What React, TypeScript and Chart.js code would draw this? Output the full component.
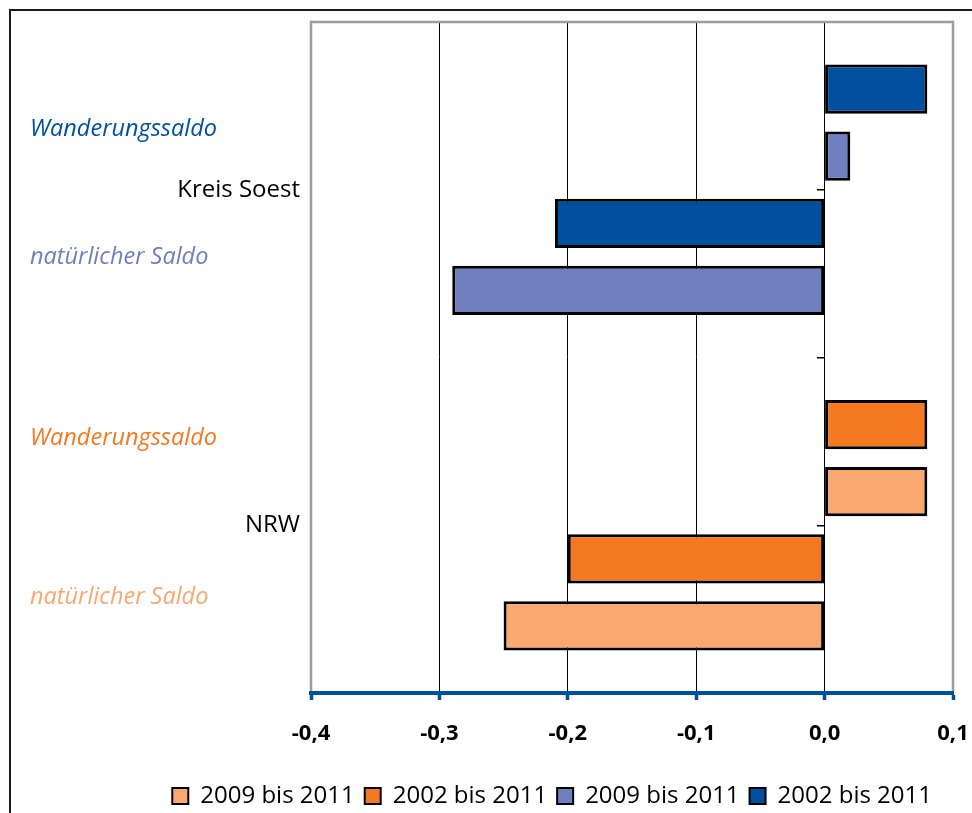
import React, { useEffect, useRef } from 'react';
import { Chart, registerables } from 'chart.js';

Chart.register(...registerables);

// ---- data ----
const periods = ['2009 bis 2011', '2002 bis 2011'];
const regions = ['Kreis Soest', 'NRW'];
const components = ['Wanderungssaldo', 'natürlicher Saldo'];
// values in order of components: [Wanderungssaldo, natürlicher Saldo]
const kreisSoest2002 = [0.08, -0.21];
const kreisSoest2009 = [0.02, -0.29];
const nrw2002 = [0.08, -0.2];
const nrw2009 = [0.08, -0.25];
const xTicks = [-0.4, -0.3, -0.2, -0.1, 0.0, 0.1];

// row layout of the bar axis (empty rows are spacers)
const rows = [
  '',
  'KS|W|2002', 'KS|W|2009', 'KS|N|2002', 'KS|N|2009',
  '',
  'NRW|W|2002', 'NRW|W|2009', 'NRW|N|2002', 'NRW|N|2009',
  '',
];
const compKeys = ['W', 'N'];

function place(region: string, period: string, values: number[]) {
  return rows.map((r) => {
    const i = compKeys.findIndex((c) => r === `${region}|${c}|${period}`);
    return i < 0 ? null : values[i];
  });
}

const FONT = '"Open Sans", "Noto Sans", sans-serif';
const C = {
  nrw2009: '#F9A870',
  nrw2002: '#F47920',
  ks2009: '#6F7EBF',
  ks2002: '#0050A0',
};

const fmt = (v: number) => {
  const n = Math.abs(v) < 1e-9 ? 0 : v;
  return n.toFixed(1).replace('.', ',');
};

const annotPlugin = {
  id: 'annot',
  afterLayout(chart: any) {
    const lg = chart.legend;
    if (lg) {
      lg.left -= 11;
      lg.right -= 11;
    }
  },
  beforeDatasetsDraw(chart: any) {
    const { ctx, chartArea } = chart;
    const { left, right, top, bottom } = chartArea;
    ctx.save();
    ctx.strokeStyle = '#9c9c9c';
    ctx.lineWidth = 2.5;
    ctx.beginPath();
    ctx.moveTo(left, bottom - 2);
    ctx.lineTo(left, top);
    ctx.lineTo(right, top);
    ctx.lineTo(right, bottom - 2);
    ctx.stroke();
    ctx.restore();
  },
  afterDraw(chart: any) {
    const { ctx } = chart;
    const y = chart.scales.y;
    const items: [string, string, number][] = [
      [components[0], C.ks2002, 1.595],
      [components[1], C.ks2009, 3.5],
      [components[0], C.nrw2002, 6.21],
      [components[1], C.nrw2009, 8.57],
    ];
    ctx.save();
    ctx.font = `italic 23.5px ${FONT}`;
    ctx.textAlign = 'left';
    ctx.textBaseline = 'middle';
    items.forEach(([t, col, v]) => {
      ctx.fillStyle = col;
      ctx.fillText(t, 19, y.getPixelForValue(v));
    });
    ctx.restore();
  },
};

export default function App() {
  const ref = useRef<HTMLCanvasElement | null>(null);
  useEffect(() => {
    if (!ref.current) return;
    const ds = (label: string, data: (number | null)[], color: string) => ({
      label,
      data,
      backgroundColor: color,
      borderColor: '#000',
      borderWidth: 3,
      borderSkipped: false,
      categoryPercentage: 1,
      barPercentage: 0.735,
      skipNull: true,
    });
    const chart = new Chart(ref.current, {
      type: 'bar',
      data: {
        labels: rows,
        datasets: [
          ds(periods[0], place('NRW', '2009', nrw2009), C.nrw2009),
          ds(periods[1], place('NRW', '2002', nrw2002), C.nrw2002),
          ds(periods[0], place('KS', '2009', kreisSoest2009), C.ks2009),
          ds(periods[1], place('KS', '2002', kreisSoest2002), C.ks2002),
        ] as any,
      },
      options: {
        indexAxis: 'y',
        animation: false,
        responsive: true,
        maintainAspectRatio: false,
        layout: { padding: { top: 11, right: 19, bottom: 0, left: 0 } },
        plugins: {
          tooltip: { enabled: false },
          legend: {
            position: 'bottom',
            align: 'end',
            labels: {
              font: { family: FONT, size: 24 },
              color: '#000',
              boxWidth: 16,
              boxHeight: 16,
              padding: 10,
              generateLabels: (chart: any) =>
                chart.data.datasets.map((d: any, i: number) => ({
                  text: d.label,
                  fillStyle: d.backgroundColor,
                  strokeStyle: '#000',
                  lineWidth: 2,
                  fontColor: '#000',
                  datasetIndex: i,
                  hidden: false,
                })),
            },
          },
        },
        scales: {
          x: {
            type: 'linear',
            min: -0.4,
            max: 0.1,
            afterBuildTicks: (s: any) => {
              s.ticks = xTicks.map((v) => ({ value: v }));
            },
            afterFit: (s: any) => {
              s.height = 81;
              s.paddingLeft = 0;
              s.paddingRight = 0;
            },
            grid: {
              color: (c: any) =>
                c.index === 0 || c.index === xTicks.length - 1 ? 'rgba(0,0,0,0)' : '#000',
              lineWidth: 1,
              tickColor: '#0050A0',
              tickWidth: 3.5,
              tickLength: 7,
            },
            border: { color: '#0050A0', width: 4 },
            ticks: {
              font: { family: FONT, size: 22, weight: 'bold' },
              color: '#000',
              padding: 21,
              maxRotation: 0,
              callback: (v: any) => fmt(Number(v)),
            },
          },
          y: {
            type: 'category',
            display: false,
            offset: false,
          },
          yGroup: {
            type: 'category',
            labels: regions,
            position: 'left',
            offset: true,
            grid: { display: false, drawTicks: false },
            border: { display: false },
            ticks: { font: { family: FONT, size: 24 }, color: '#000', padding: 11 },
            afterFit: (s: any) => {
              s.width = 300;
              s.paddingTop = 0;
              s.paddingBottom = 0;
            },
          },
          yTicks: {
            type: 'category',
            labels: ['a', 'b', 'c', 'd'],
            position: { x: 0 },
            offset: true,
            grid: {
              offset: true,
              drawOnChartArea: false,
              tickLength: 8,
              color: '#000',
              lineWidth: 1.5,
            },
            ticks: { display: false },
            border: { display: false },
            afterFit: (s: any) => {
              s.paddingTop = 0;
              s.paddingBottom = 0;
            },
          },
        } as any,
      },
      plugins: [annotPlugin],
    } as any);
    return () => chart.destroy();
  }, []);

  return (
    <div
      style={{
        position: 'absolute',
        left: 9,
        top: 9,
        width: 963,
        height: 804,
        borderLeft: '2px solid #1a1a1a',
        borderTop: '2px solid #1a1a1a',
        overflow: 'hidden',
        boxSizing: 'border-box',
        background: '#fff',
      }}
    >
      <div style={{ position: 'relative', width: 961, height: 807 }}>
        <canvas ref={ref} />
      </div>
    </div>
  );
}
